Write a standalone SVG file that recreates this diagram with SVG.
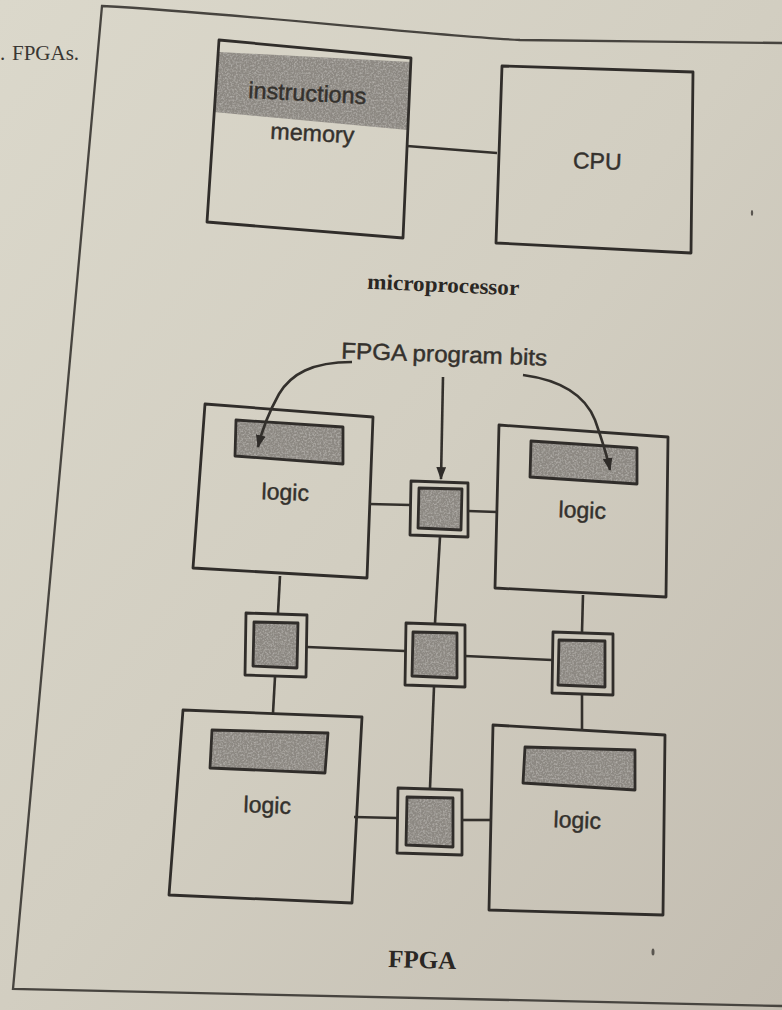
<svg xmlns="http://www.w3.org/2000/svg" width="782" height="1010" viewBox="0 0 782 1010">
  <defs>
    <linearGradient id="paper" x1="0" y1="0" x2="1" y2="1">
      <stop offset="0" stop-color="#dbd8cb"/>
      <stop offset="0.5" stop-color="#d2cec1"/>
      <stop offset="1" stop-color="#c3bdb1"/>
    </linearGradient>
    <filter id="grain" x="0" y="0" width="100%" height="100%">
      <feTurbulence type="fractalNoise" baseFrequency="0.55" numOctaves="2" seed="7" result="noise"/>
      <feColorMatrix in="noise" type="matrix" values="0 0 0 0 0.62  0 0 0 0 0.6  0 0 0 0 0.57  0 0 0 1.1 -0.45" result="speck"/>
      <feComposite in="speck" in2="SourceGraphic" operator="in" result="clipped"/>
      <feMerge>
        <feMergeNode in="SourceGraphic"/>
        <feMergeNode in="clipped"/>
      </feMerge>
    </filter>
    <filter id="soft" x="-5%" y="-10%" width="110%" height="120%">
      <feGaussianBlur stdDeviation="1.6"/>
    </filter>
    <marker id="head" viewBox="0 0 12 9" refX="11" refY="4.5" markerWidth="13" markerHeight="10" markerUnits="userSpaceOnUse" orient="auto">
      <path d="M0,0 L12,4.5 L0,9 Z" fill="#2f2c29"/>
    </marker>
    <style>
      .box { fill: none; stroke: #302d2a; stroke-width: 2.8; stroke-linejoin: round; }
      .shade { fill: #8c8882; stroke: none; filter: url(#grain); }
      .wire { fill: none; stroke: #33302c; stroke-width: 2.6; }
      .frame { fill: none; stroke: #47443f; stroke-width: 2.3; }
      .lbl { font-family: "Liberation Sans", Arial, sans-serif; font-size: 23px; fill: #34312d; stroke: #34312d; stroke-width: 0.45; text-anchor: middle; }
      .cap { font-family: "Liberation Serif", "Times New Roman", serif; font-weight: bold; fill: #2a2724; text-anchor: middle; }
      .note { font-family: "Liberation Serif", "Times New Roman", serif; font-size: 21px; fill: #3a3733; }
      .dust { fill: #5a5650; }
    </style>
  </defs>

  <!-- page -->
  <rect x="0" y="0" width="782" height="1010" fill="url(#paper)"/>
  <text class="note" x="0" y="60">.<tspan x="12">FPGAs.</tspan></text>

  <!-- figure frame -->
  <path class="frame" d="M782,43 C 700,42 600,41 520,40 C 420,35 250,14 102,6 L13,989 L782,1006"/>

  <ellipse class="dust" cx="752" cy="213" rx="1.2" ry="3"/>
  <ellipse class="dust" cx="653" cy="952" rx="1.5" ry="3.5"/>

  <!-- microprocessor -->
  <g id="memory">
    <polygon class="shade" points="219,52 411,62 408,130 214,112" filter="url(#soft)" opacity="0.95"/>
    <polygon class="shade" points="219,55 410,64 408,127 214,109"/>
    <polygon class="box" points="219,40 411,58 403,238 207,222"/>
    <text class="lbl" x="307" y="101" transform="rotate(3 307 101)" textLength="118" lengthAdjust="spacingAndGlyphs">instructions</text>
    <text class="lbl" x="312" y="141" transform="rotate(3 312 141)" textLength="84" lengthAdjust="spacingAndGlyphs">memory</text>
  </g>
  <g id="cpu">
    <polygon class="box" points="502,66 693,72 691,253 496,243"/>
    <text class="lbl" x="597" y="169" font-size="24" transform="rotate(2 597 169)">CPU</text>
  </g>
  <text class="cap" x="443" y="292" font-size="22" transform="rotate(2.5 443 292)" textLength="152" lengthAdjust="spacingAndGlyphs">microprocessor</text>

  <!-- FPGA -->
  <text class="lbl" x="444" y="362" font-size="21" transform="rotate(2 444 362)" textLength="206" lengthAdjust="spacingAndGlyphs">FPGA program bits</text>

  <g id="logic-tl">
    <polygon class="shade" points="236,420 343,427 343,464 235,456"/>
    <polygon class="box" points="236,420 343,427 343,464 235,456"/>
    <polygon class="box" points="205,404 373,417 367,578 193,568"/>
    <text class="lbl" x="285" y="500" transform="rotate(2 285 500)">logic</text>
  </g>
  <g id="logic-tr">
    <polygon class="shade" points="531,441 637,448 637,484 530,477"/>
    <polygon class="box" points="531,441 637,448 637,484 530,477"/>
    <polygon class="box" points="499,425 668,437 666,597 495,588"/>
    <text class="lbl" x="582" y="518" transform="rotate(2 582 518)">logic</text>
  </g>
  <g id="logic-bl">
    <polygon class="shade" points="212,730 328,733 325,773 210,768"/>
    <polygon class="box" points="212,730 328,733 325,773 210,768"/>
    <polygon class="box" points="183,710 362,717 352,903 169,895"/>
    <text class="lbl" x="267" y="813" transform="rotate(2 267 813)">logic</text>
  </g>
  <g id="logic-br">
    <polygon class="shade" points="525,747 635,750 635,790 523,783"/>
    <polygon class="box" points="525,747 635,750 635,790 523,783"/>
    <polygon class="box" points="493,725 665,735 663,915 489,910"/>
    <text class="lbl" x="577" y="828" transform="rotate(2 577 828)">logic</text>
  </g>

  <!-- programmable switches -->
  <g id="switch-top">
    <polygon class="box" points="411,481 468,483 468,537 410,535"/>
    <polygon class="shade" points="419,488 462,489 461,530 418,528"/>
    <polygon class="box" points="419,488 462,489 461,530 418,528"/>
  </g>
  <g id="switch-left">
    <polygon class="box" points="246,613 307,615 306,677 245,675"/>
    <polygon class="shade" points="254,622 298,623 297,668 253,666"/>
    <polygon class="box" points="254,622 298,623 297,668 253,666"/>
  </g>
  <g id="switch-mid">
    <polygon class="box" points="406,623 465,625 465,687 405,685"/>
    <polygon class="shade" points="413,632 457,633 457,678 412,676"/>
    <polygon class="box" points="413,632 457,633 457,678 412,676"/>
  </g>
  <g id="switch-right">
    <polygon class="box" points="553,632 613,634 613,695 552,693"/>
    <polygon class="shade" points="559,640 605,641 605,687 558,685"/>
    <polygon class="box" points="559,640 605,641 605,687 558,685"/>
  </g>
  <g id="switch-bottom">
    <polygon class="box" points="398,788 462,790 462,855 397,853"/>
    <polygon class="shade" points="407,797 453,798 453,847 406,845"/>
    <polygon class="box" points="407,797 453,798 453,847 406,845"/>
  </g>

  <text class="cap" x="422" y="968" font-size="25" transform="rotate(1.5 422 968)">FPGA</text>

  <!-- connectors -->
  <g id="connectors">
    <line class="wire" x1="407" y1="146" x2="497" y2="153"/>
    <!-- program-bit arrows -->
    <path class="wire" d="M352,362 C 312,362 291,374 279,394 C 269,412 262,430 258,447" marker-end="url(#head)"/>
    <line class="wire" x1="443" y1="377" x2="441" y2="479" marker-end="url(#head)"/>
    <path class="wire" d="M523,375 C 560,380 585,395 595,420 C 602,440 607,455 610,470" marker-end="url(#head)"/>
    <!-- routing between logic blocks and switches -->
    <line class="wire" x1="369" y1="504" x2="411" y2="505"/>
    <line class="wire" x1="468" y1="511" x2="497" y2="512"/>
    <line class="wire" x1="440" y1="537" x2="435" y2="623"/>
    <line class="wire" x1="280" y1="576" x2="278" y2="613"/>
    <line class="wire" x1="583" y1="595" x2="582" y2="632"/>
    <line class="wire" x1="307" y1="647" x2="405" y2="651"/>
    <line class="wire" x1="465" y1="656" x2="552" y2="660"/>
    <line class="wire" x1="275" y1="677" x2="273" y2="713"/>
    <line class="wire" x1="582" y1="695" x2="582" y2="731"/>
    <line class="wire" x1="434" y1="687" x2="430" y2="788"/>
    <line class="wire" x1="354" y1="817" x2="397" y2="818"/>
    <line class="wire" x1="462" y1="820" x2="492" y2="820"/>
  </g>
</svg>
